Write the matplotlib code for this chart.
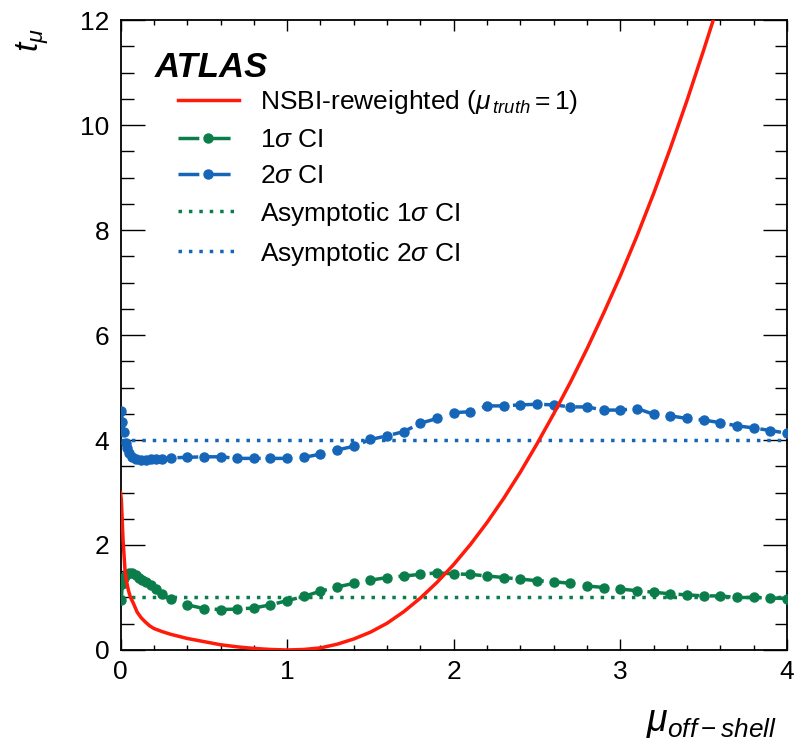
import numpy as np
import matplotlib
matplotlib.use("Agg")
import matplotlib.pyplot as plt
from matplotlib.ticker import MultipleLocator

plt.rcParams['font.family'] = ['Liberation Sans', 'DejaVu Sans']
plt.rcParams['mathtext.fontset'] = 'custom'
plt.rcParams['mathtext.rm'] = 'Liberation Sans'
plt.rcParams['mathtext.it'] = 'Liberation Sans:italic'
plt.rcParams['mathtext.bf'] = 'Liberation Sans:bold'

# NSBI-reweighted profile curve
red_x = [0.0, 0.005, 0.015, 0.027, 0.035, 0.047, 0.06, 0.077, 0.10, 0.125, 0.15, 0.175,
         0.20, 0.25, 0.30, 0.35, 0.40, 0.45, 0.50, 0.60, 0.70, 0.80, 0.90, 1.00, 1.10,
         1.20, 1.30, 1.40, 1.50, 1.60, 1.70, 1.80, 1.90, 2.00, 2.10, 2.20, 2.30, 2.40,
         2.50, 2.60, 2.70, 2.80, 2.90, 3.00, 3.10, 3.20, 3.30, 3.40, 3.50, 3.60]
red_y = [3.0, 2.86, 2.10, 1.52, 1.32, 1.14, 1.00, 0.89, 0.72, 0.61, 0.53, 0.46,
         0.41, 0.35, 0.30, 0.26, 0.22, 0.19, 0.16, 0.10, 0.06, 0.03, 0.01, 0.00, 0.01,
         0.04, 0.11, 0.21, 0.34, 0.51, 0.73, 0.99, 1.29, 1.63, 2.01, 2.43, 2.89, 3.39,
         3.93, 4.50, 5.10, 5.74, 6.42, 7.13, 7.89, 8.70, 9.56, 10.47, 11.43, 12.42]

# 1 sigma CI
g_x = [0.005, 0.01, 0.02, 0.03, 0.05, 0.07, 0.09, 0.11, 0.13, 0.15, 0.18, 0.21, 0.25,
       0.30, 0.40, 0.50, 0.60, 0.70, 0.80, 0.90, 1.00, 1.10, 1.20, 1.30, 1.40, 1.50,
       1.60, 1.70, 1.80, 1.90, 2.00, 2.10, 2.20, 2.30, 2.40, 2.50, 2.60, 2.70, 2.80,
       2.90, 3.00, 3.10, 3.20, 3.30, 3.40, 3.50, 3.60, 3.70, 3.80, 3.90, 4.00]
g_y = [0.95, 1.25, 1.38, 1.43, 1.47, 1.46, 1.42, 1.38, 1.34, 1.30, 1.24, 1.16, 1.06,
       0.97, 0.86, 0.79, 0.77, 0.78, 0.80, 0.86, 0.94, 1.02, 1.12, 1.20, 1.27, 1.33,
       1.38, 1.41, 1.44, 1.47, 1.45, 1.44, 1.41, 1.38, 1.35, 1.32, 1.30, 1.27, 1.22,
       1.19, 1.16, 1.13, 1.10, 1.07, 1.05, 1.03, 1.03, 1.00, 1.00, 0.99, 0.98]

# 2 sigma CI
b_x = [0.005, 0.01, 0.02, 0.03, 0.04, 0.05, 0.07, 0.09, 0.12, 0.15, 0.18, 0.21, 0.25,
       0.30, 0.40, 0.50, 0.60, 0.70, 0.80, 0.90, 1.00, 1.10, 1.20, 1.30, 1.40, 1.50,
       1.60, 1.70, 1.80, 1.90, 2.00, 2.10, 2.20, 2.30, 2.40, 2.50, 2.60, 2.70, 2.80,
       2.90, 3.00, 3.10, 3.20, 3.30, 3.40, 3.50, 3.60, 3.70, 3.80, 3.90, 4.00]
b_y = [4.55, 4.35, 4.15, 3.95, 3.85, 3.76, 3.68, 3.64, 3.62, 3.62, 3.63, 3.63, 3.64,
       3.66, 3.67, 3.68, 3.68, 3.65, 3.65, 3.65, 3.65, 3.67, 3.73, 3.81, 3.88, 4.01,
       4.08, 4.16, 4.32, 4.41, 4.52, 4.54, 4.65, 4.65, 4.67, 4.68, 4.67, 4.63, 4.63,
       4.57, 4.57, 4.60, 4.49, 4.46, 4.41, 4.38, 4.33, 4.27, 4.23, 4.18, 4.13]

asym_levels = [1.0, 4.0]

RED = '#ff1a0a'
GREEN = '#0a7d4b'
BLUE = '#1565b8'

fig = plt.figure(figsize=(7.94, 7.42), dpi=100)
ax = fig.add_axes([0.1518, 0.124, 0.8394, 0.849])

ax.plot(red_x, red_y, color=RED, lw=2.5, label=r'NSBI-reweighted ($\mu_{\,truth} = 1$)', zorder=5)
ax.plot(g_x, g_y, color=GREEN, lw=2.5, ls=(0, (6, 3)), marker='o', ms=6.5,
        label=r'1$\sigma$ CI', zorder=4)
ax.plot(b_x, b_y, color=BLUE, lw=2.5, ls=(0, (6, 3)), marker='o', ms=6.5,
        label=r'2$\sigma$ CI', zorder=4)
ax.axhline(asym_levels[0], color=GREEN, lw=2.5, ls=(0, (1, 2)),
           label=r'Asymptotic 1$\sigma$ CI', zorder=3)
ax.axhline(asym_levels[1], color=BLUE, lw=2.5, ls=(0, (1, 2)),
           label=r'Asymptotic 2$\sigma$ CI', zorder=3)

ax.set_xlim(0, 4)
ax.set_ylim(0, 12)
ax.xaxis.set_major_locator(MultipleLocator(1))
ax.xaxis.set_minor_locator(MultipleLocator(0.2))
ax.yaxis.set_major_locator(MultipleLocator(2))
ax.yaxis.set_minor_locator(MultipleLocator(0.5))
ax.tick_params(axis='both', which='both', direction='in', top=True, right=True,
               labelsize=19, width=1.0)
ax.tick_params(axis='x', which='major', length=8, pad=7)
ax.tick_params(axis='x', which='minor', length=3.5)
ax.tick_params(axis='y', which='major', length=17, pad=8)
ax.tick_params(axis='y', which='minor', length=9)
for s in ax.spines.values():
    s.set_linewidth(1.3)

fig.text(777 / 794, 1 - 731 / 742, r'$\mu_{off-shell}$', fontsize=27, ha='right', va='baseline')
fig.text(33 / 794, 1 - 40 / 742, r'$t_{\mu}$', fontsize=24, rotation=90, ha='center', va='center')

ax.text(0.052, 0.909, 'ATLAS', transform=ax.transAxes, fontsize=25,
        fontweight='bold', fontstyle='italic', ha='left', va='baseline')

leg = ax.legend(loc='upper left', bbox_to_anchor=(0.086, 0.892), frameon=False,
                fontsize=19, handlelength=2.3, handletextpad=0.8, labelspacing=0.45,
                borderpad=0, borderaxespad=0, numpoints=1)

fig.savefig('out.png', dpi=100)
